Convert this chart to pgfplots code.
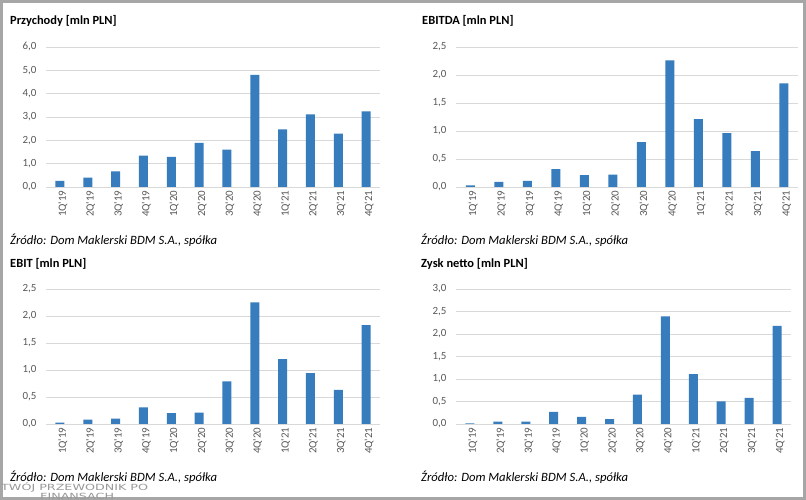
\documentclass[border=0pt]{standalone}
\usepackage{fontspec}
\setmainfont{Carlito}[Ligatures=TeXOff]
\newfontfamily\wmfont{DejaVu Sans}
\usepackage{pgfplots}
\pgfplotsset{compat=1.18}

\definecolor{barblue}{RGB}{55,125,190}
\definecolor{gridgray}{RGB}{217,217,217}
\definecolor{ticktext}{RGB}{89,89,89}
\definecolor{framegray}{RGB}{166,166,166}

\pgfplotsset{
  panel/.style={
    anchor=south west, scale only axis,
    ybar, bar width=9bp,
    xmin=-0.5, xmax=11.5, ymin=0,
    axis line style={draw=none},
    major tick length=0pt,
    ymajorgrids, grid style={gridgray, line width=0.9bp},
    xtick={0,...,11},
    xticklabels={1Q'19,2Q'19,3Q'19,4Q'19,1Q'20,2Q'20,3Q'20,4Q'20,1Q'21,2Q'21,3Q'21,4Q'21},
    x tick label style={rotate=90, anchor=east, yshift=-3bp,
      font=\fontsize{11}{12}\selectfont, text=ticktext},
    y tick label style={xshift=-6bp, font=\fontsize{11}{12}\selectfont, text=ticktext},
    /pgf/number format/.cd, use comma, fixed, fixed zerofill, precision=1,
      assume math mode=true,
  },
  panelbar/.style={fill=barblue, draw=none},
}

\begin{document}
\begin{tikzpicture}
\begin{scope}[x=1bp, y=1bp]
\useasboundingbox (0,0) rectangle (806,500);
\fill[white] (0,0) rectangle (806,500);
\draw[framegray, line width=3bp] (1.5,1.5) rectangle (804.5,498.5);
\end{scope}

% Przychody
\begin{axis}[panel, at={(46bp,313bp)}, width=334bp, height=140bp, ymax=6, ytick distance=1]
\addplot[panelbar] coordinates {
  (0,0.26) (1,0.40) (2,0.67) (3,1.34) (4,1.29) (5,1.89)
  (6,1.60) (7,4.81) (8,2.47) (9,3.11) (10,2.29) (11,3.24)};
\end{axis}

% EBITDA
\begin{axis}[panel, at={(456bp,313bp)}, width=342bp, height=140bp, ymax=2.5, ytick distance=0.5]
\addplot[panelbar] coordinates {
  (0,0.03) (1,0.09) (2,0.11) (3,0.32) (4,0.21) (5,0.22)
  (6,0.80) (7,2.26) (8,1.21) (9,0.96) (10,0.64) (11,1.85)};
\end{axis}

% EBIT
\begin{axis}[panel, at={(46bp,76bp)}, width=334bp, height=135bp, ymax=2.5, ytick distance=0.5]
\addplot[panelbar] coordinates {
  (0,0.025) (1,0.08) (2,0.10) (3,0.31) (4,0.20) (5,0.21)
  (6,0.79) (7,2.25) (8,1.20) (9,0.94) (10,0.63) (11,1.83)};
\end{axis}

% Zysk netto
\begin{axis}[panel, at={(456bp,76bp)}, width=335bp, height=135bp, ymax=3, ytick distance=0.5]
\addplot[panelbar] coordinates {
  (0,0.015) (1,0.05) (2,0.05) (3,0.27) (4,0.16) (5,0.11)
  (6,0.65) (7,2.39) (8,1.11) (9,0.50) (10,0.58) (11,2.18)};
\end{axis}

\begin{scope}[x=1bp, y=1bp,
  ttl/.style={anchor=base west, inner sep=0pt, font=\fontsize{12.5}{14}\selectfont\bfseries},
  src/.style={anchor=base west, inner sep=0pt, font=\fontsize{12.7}{14}\selectfont\itshape}]
\node[ttl] at (10,475) {Przychody [mln PLN]};
\node[ttl] at (422,475) {EBITDA [mln PLN]};
\node[ttl] at (10,232) {EBIT [mln PLN]};
\node[ttl] at (421,232) {Zysk netto [mln PLN]};
\node[src] at (10,255) {Źródło: Dom Maklerski BDM S.A., spółka};
\node[src] at (421,255) {Źródło: Dom Maklerski BDM S.A., spółka};
\node[src] at (10,18) {Źródło: Dom Maklerski BDM S.A., spółka};
\node[src] at (421,18) {Źródło: Dom Maklerski BDM S.A., spółka};

% watermark
\node[anchor=base west, inner sep=0pt, text=gray!80, font=\fontsize{8.5}{9}\wmfont]
  at (1,9) {\scalebox{1.5}[1]{TWÓJ PRZEWODNIK PO}};
\node[anchor=base west, inner sep=0pt, text=gray!80, font=\fontsize{8.5}{9}\wmfont]
  at (40,0.5) {\scalebox{1.5}[1]{FINANSACH}};
\end{scope}
\end{tikzpicture}
\end{document}
